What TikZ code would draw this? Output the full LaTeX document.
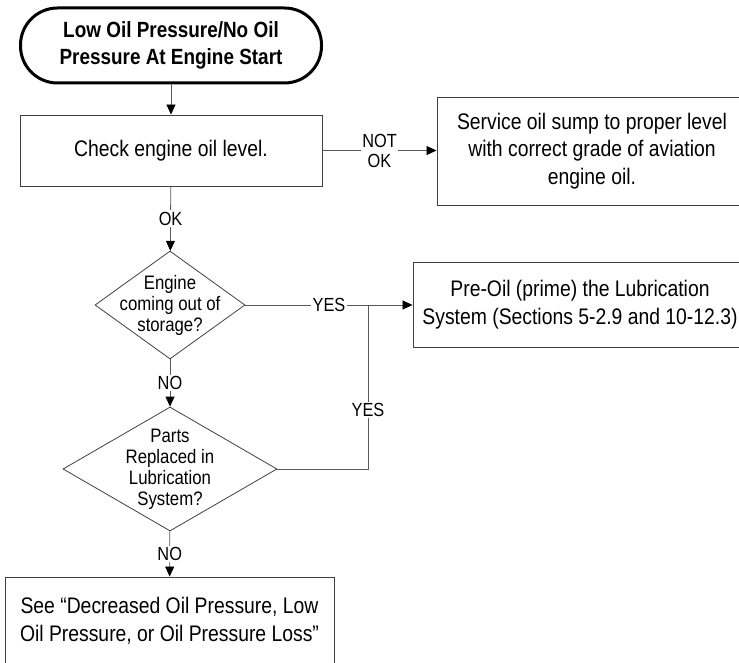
\documentclass[tikz,border=0pt]{standalone}
\usepackage{fontspec}
\setmainfont{Liberation Sans}[FakeStretch=0.86]
\usetikzlibrary{arrows.meta,shapes.geometric}

\begin{document}
\begin{tikzpicture}[x=1pt, y=-1pt,
    line/.style={draw, black!65, line width=0.8pt},
    arrowline/.style={line, -{Triangle[black, length=10pt, width=9pt]}},
    box/.style={draw=black!75, line width=0.9pt, align=center, inner sep=0pt, font=\fontsize{22.5}{27.5}\selectfont},
    decision/.style={draw=black!75, diamond, inner sep=0pt, line width=0.8pt},
    ask/.style={align=center, font=\fontsize{19.5}{21}\selectfont},
    tag/.style={fill=white, text=black, inner sep=1.5pt, align=center, font=\fontsize{19}{20}\selectfont}]
    \clip (0,0) rectangle (739,663);
    % boxes
    \node[box, draw=black, line width=3pt, rounded corners=37pt, minimum width=301pt, minimum height=75pt, font=\bfseries\fontsize{22}{27}\selectfont](start) at (171,45.5) {Low Oil Pressure/No Oil\\Pressure At Engine Start};
    \node[box, minimum width=302pt, minimum height=71pt](level) at (171,150.5) {Check engine oil level.};
    \node[box, minimum width=310pt, minimum height=108pt](service) at (592,151) {Service oil sump to proper level\\with correct grade of aviation\\engine oil.};
    \node[decision, minimum width=150pt, minimum height=108pt, label={[ask]center:{Engine\\coming out of\\storage?}}](storage) at (170,305) {};
    \node[box, minimum width=334pt, minimum height=85pt](prime) at (580,304.5) {Pre-Oil (prime) the Lubrication\\System (Sections 5-2.9 and 10-12.3)};
    \node[decision, minimum width=214pt, minimum height=124pt, label={[ask]center:{Parts\\Replaced in\\Lubrication\\System?}}](parts) at (170,469) {};
    \node[box, minimum width=329pt, minimum height=88pt](loss) at (169.5,621) {See “Decreased Oil Pressure, Low\\Oil Pressure, or Oil Pressure Loss”};
    % connectors
    \coordinate(join) at (368,305);
    \path[arrowline](start)--(level);
    \path[arrowline](level)--node[tag]{OK}(storage);
    \path[arrowline](storage)--node[tag]{NO}(parts);
    \path[arrowline](parts)--node[tag]{NO}(loss);
    \path[arrowline](level.east)--node[tag]{NOT\\OK}(level.east-|service.west);
    \path[arrowline](storage.east)--node[tag]{YES}(storage.east-|prime.west);
    \path[line](parts.east)-|node[tag, pos=0.68]{YES}(join);
\end{tikzpicture}
\end{document}
